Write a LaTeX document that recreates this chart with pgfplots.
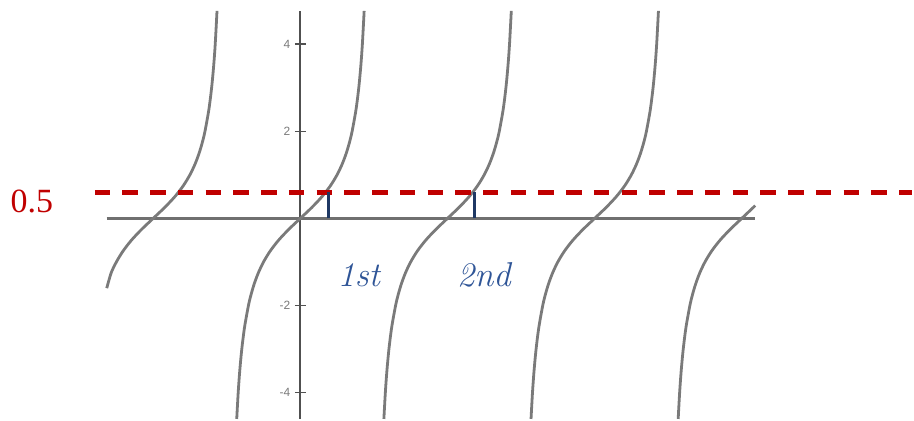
\documentclass[border=0pt]{standalone}
\usepackage{pgfplots}
\pgfplotsset{compat=1.18}
\usepackage{fontspec}
\newfontfamily\lsans{Liberation Sans}
\newfontfamily\lserif{Liberation Serif}
\definecolor{curvegray}{HTML}{7A7A7A}
\definecolor{axgray}{HTML}{707070}
\definecolor{yaxdark}{HTML}{505050}
\definecolor{dred}{HTML}{C00000}
\definecolor{navy}{HTML}{1F3864}
\definecolor{lblue}{HTML}{2F5597}
\begin{document}
\begin{tikzpicture}
\begin{axis}[
  scale only axis,
  width=650pt, height=409pt,
  xmin=-4.132, xmax=9.712,
  ymin=-4.600, ymax=4.760,
  enlargelimits=false,
  clip=false,
  axis lines=middle,
  x axis line style={-, axgray, line width=2.6pt},
  y axis line style={-, yaxdark, line width=1.6pt},
  xtick=\empty,
  ytick={-4,-2,2,4},
  yticklabels={-4,-2,2,4},
  tick align=center,
  major tick length=11pt,
  tick style={yaxdark, line width=1.4pt},
  yticklabel style={font=\lsans\fontsize{12}{13}\selectfont, text=curvegray, xshift=-1pt},
]
% bounding box of the whole picture
\path (axis cs:-6.411,5.011) rectangle (axis cs:13.056,-4.600);
% tangent branches
\addplot[curvegray, line width=2.8pt, smooth] coordinates {
(-4.132,-1.60) (-4.0377,-1.25) (-3.9270,-1) (-3.7851,-0.75) (-3.6052,-0.5) (-3.3866,-0.25) (-3.1416,0) (-2.8966,0.25) (-2.6780,0.5) (-2.4981,0.75) (-2.3562,1) (-2.2455,1.25) (-2.1588,1.5) (-2.0899,1.75) (-2.0345,2) (-1.9513,2.5) (-1.8926,3) (-1.8491,3.5) (-1.8158,4) (-1.7779,4.76)};
\addplot[curvegray, line width=2.8pt, smooth] coordinates {
(-1.3567,-4.6) (-1.3258,-4) (-1.2925,-3.5) (-1.2490,-3) (-1.1903,-2.5) (-1.1071,-2) (-1.0517,-1.75) (-0.9828,-1.5) (-0.8961,-1.25) (-0.7854,-1) (-0.6435,-0.75) (-0.4636,-0.5) (-0.2450,-0.25) (0,0) (0.2450,0.25) (0.4636,0.5) (0.6435,0.75) (0.7854,1) (0.8961,1.25) (0.9828,1.5) (1.0517,1.75) (1.1071,2) (1.1903,2.5) (1.2490,3) (1.2925,3.5) (1.3258,4) (1.3637,4.76)};
\addplot[curvegray, line width=2.8pt, smooth] coordinates {
(1.7849,-4.6) (1.8158,-4) (1.8491,-3.5) (1.8926,-3) (1.9513,-2.5) (2.0345,-2) (2.0899,-1.75) (2.1588,-1.5) (2.2455,-1.25) (2.3562,-1) (2.4981,-0.75) (2.6780,-0.5) (2.8966,-0.25) (3.1416,0) (3.3866,0.25) (3.6052,0.5) (3.7851,0.75) (3.9270,1) (4.0377,1.25) (4.1244,1.5) (4.1933,1.75) (4.2487,2) (4.3319,2.5) (4.3906,3) (4.4341,3.5) (4.4674,4) (4.5053,4.76)};
\addplot[curvegray, line width=2.8pt, smooth] coordinates {
(4.9265,-4.6) (4.9574,-4) (4.9907,-3.5) (5.0342,-3) (5.0929,-2.5) (5.1761,-2) (5.2315,-1.75) (5.3004,-1.5) (5.3871,-1.25) (5.4978,-1) (5.6397,-0.75) (5.8196,-0.5) (6.0382,-0.25) (6.2832,0) (6.5282,0.25) (6.7468,0.5) (6.9267,0.75) (7.0686,1) (7.1793,1.25) (7.2660,1.5) (7.3349,1.75) (7.3903,2) (7.4735,2.5) (7.5322,3) (7.5757,3.5) (7.6090,4) (7.6469,4.76)};
\addplot[curvegray, line width=2.8pt, smooth] coordinates {
(8.0681,-4.6) (8.0990,-4) (8.1323,-3.5) (8.1758,-3) (8.2345,-2.5) (8.3177,-2) (8.3731,-1.75) (8.4420,-1.5) (8.5287,-1.25) (8.6394,-1) (8.7813,-0.75) (8.9612,-0.5) (9.1798,-0.25) (9.4248,0) (9.6698,0.25) (9.712,0.295)};
% red dashed level line
\addplot[dred, line width=4.4pt, dash pattern=on 15.5pt off 12.3pt] coordinates {(-4.388,0.595) (13.056,0.595)};
% navy markers
\addplot[navy, line width=3pt] coordinates {(0.596,0) (0.596,0.595)};
\addplot[navy, line width=3pt] coordinates {(3.727,0) (3.727,0.595)};
% labels
\node[text=dred, font=\lserif\fontsize{34}{36}\selectfont, anchor=center] at (axis cs:-5.73,0.389) {0.5};
\node[text=lblue, font=\fontsize{34.6}{36}\selectfont\itshape, anchor=base] at (axis cs:1.246,-1.556) {1st};
\node[text=lblue, font=\fontsize{34.6}{36}\selectfont\itshape, anchor=base] at (axis cs:3.919,-1.556) {2nd};
\end{axis}
\end{tikzpicture}
\end{document}
